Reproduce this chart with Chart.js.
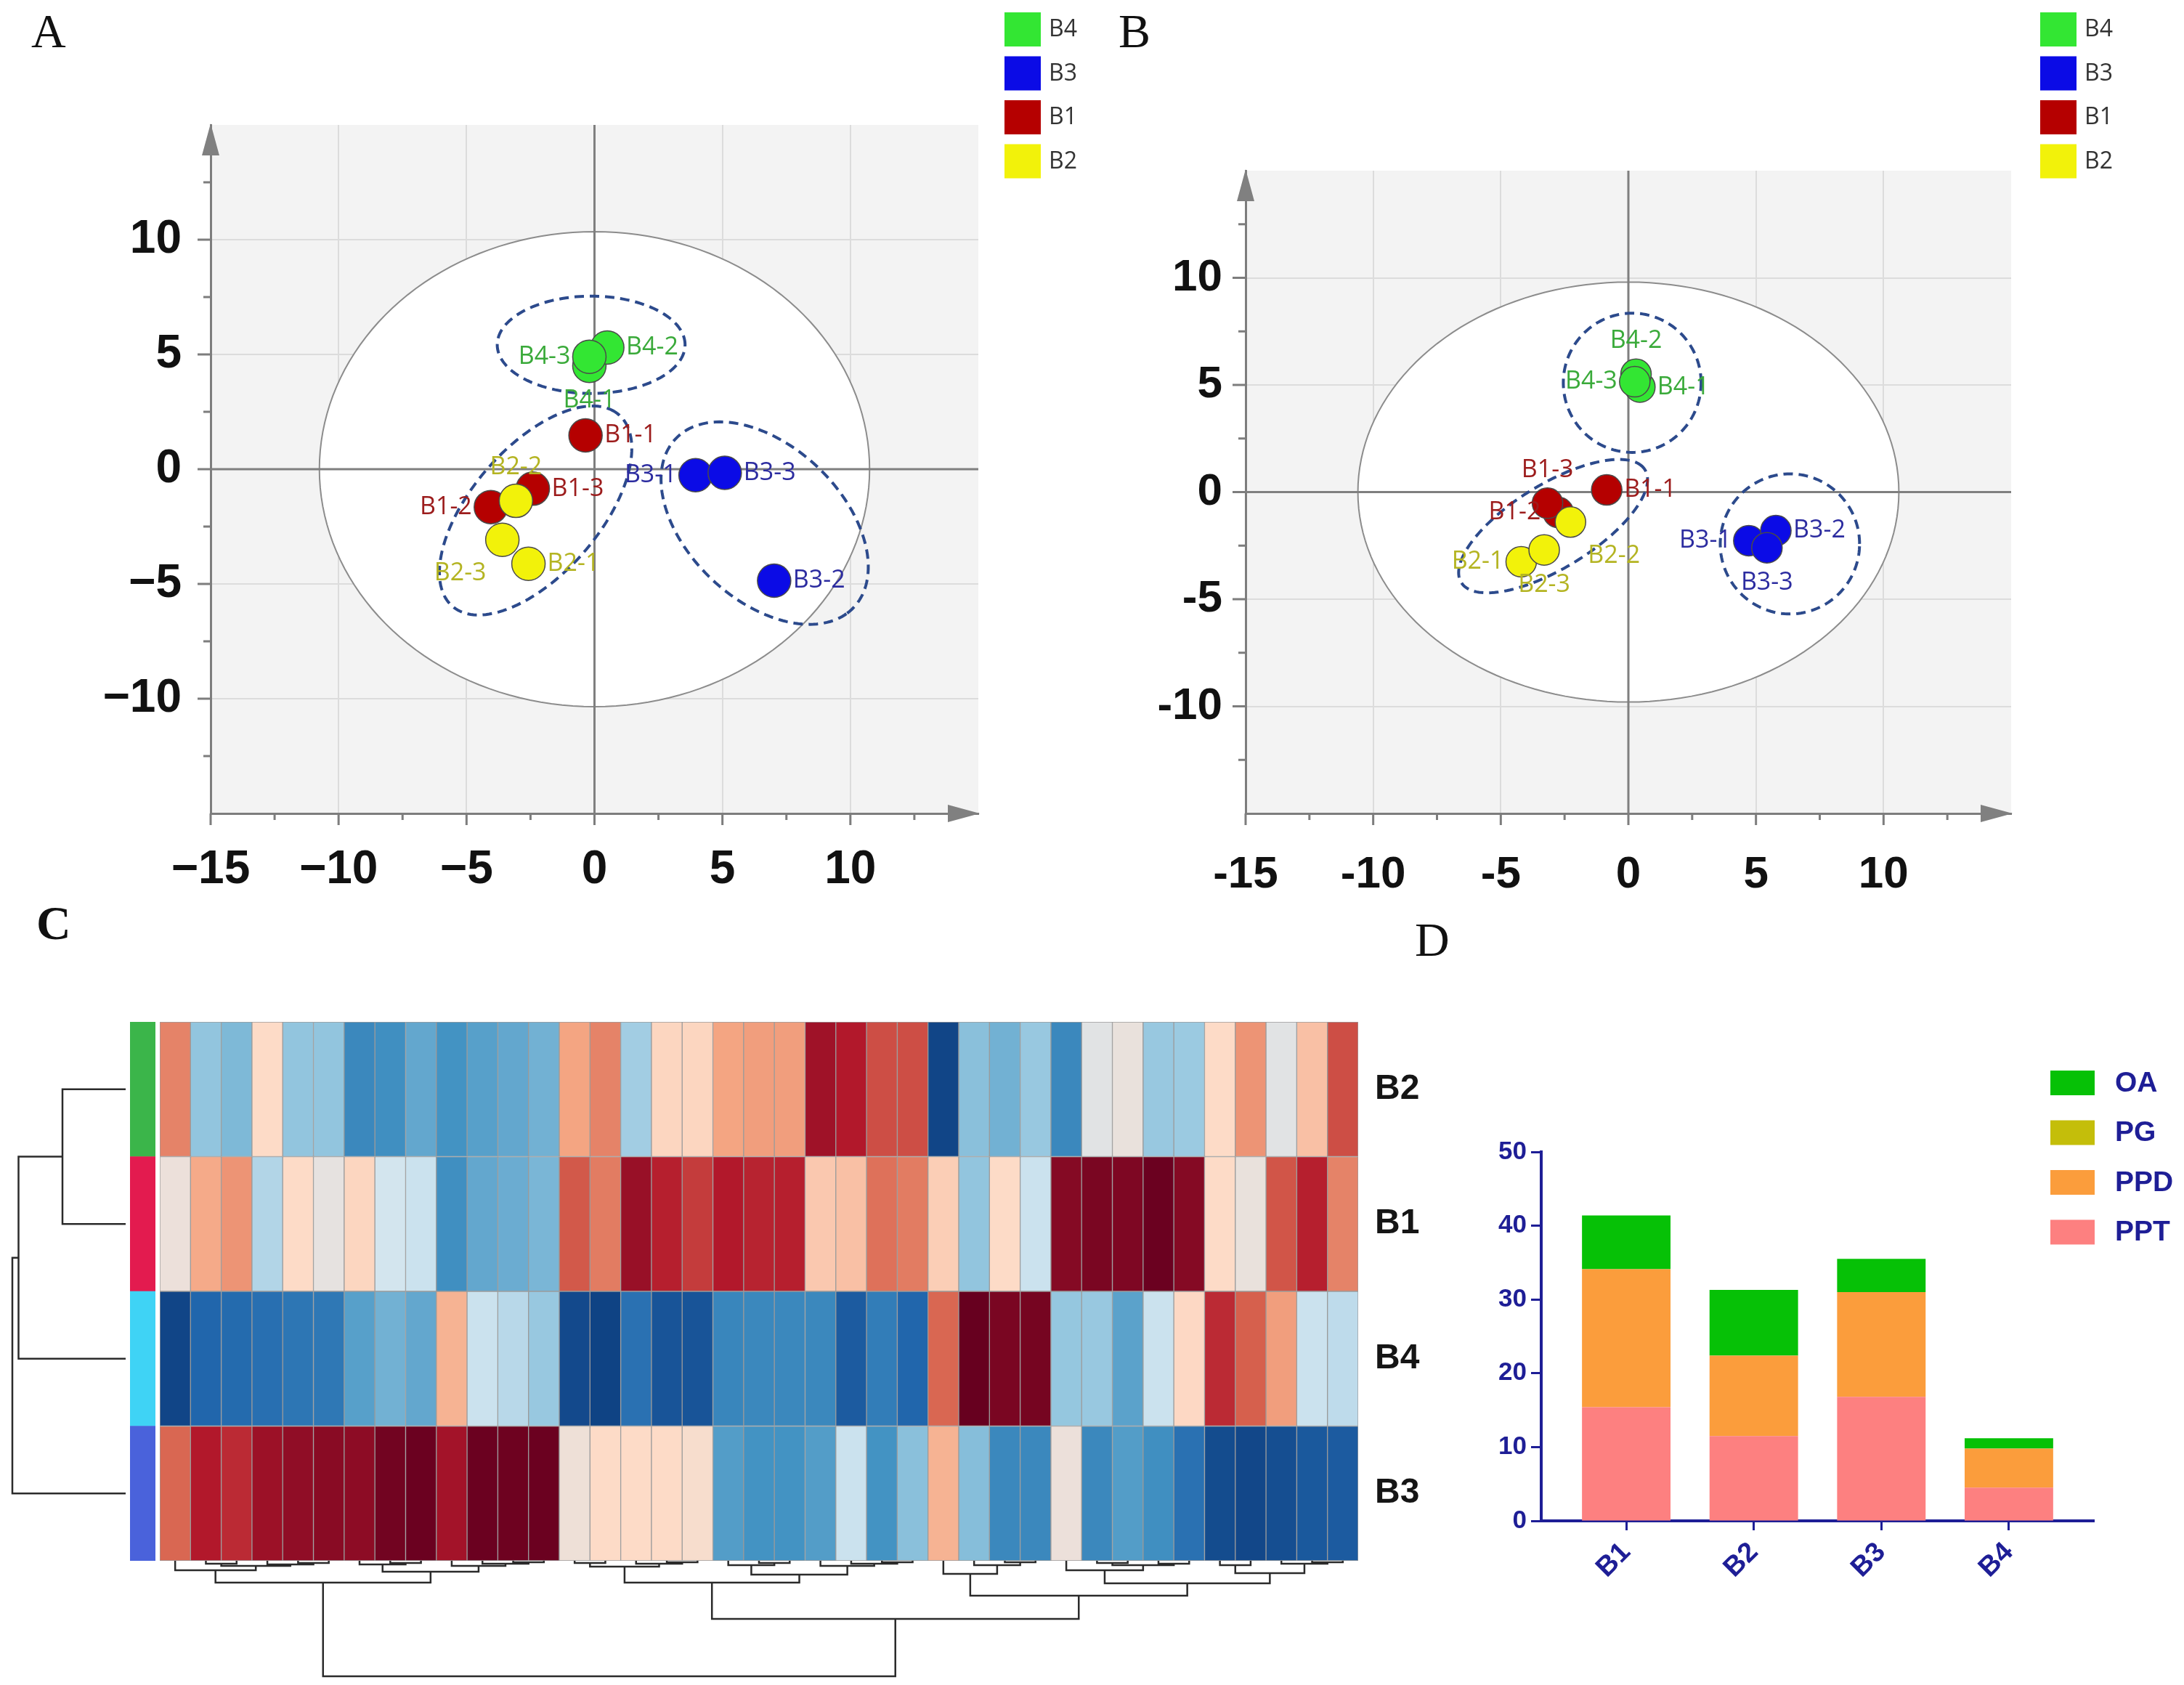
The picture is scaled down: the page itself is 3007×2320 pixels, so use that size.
<!DOCTYPE html>
<html>
<head>
<meta charset="utf-8">
<title>Score plots, heatmap and saponin content</title>
<script src="https://cdn.jsdelivr.net/npm/chart.js@4.4.1/dist/chart.umd.min.js"></script>
<style>
  body { margin: 0; background: #fff; }
  #page { position: relative; width: 3007px; height: 2320px; overflow: hidden; background: #fff; }
  #page canvas { position: absolute; }
  .tag { position: absolute; font-family: "Liberation Serif", "DejaVu Serif", serif; font-size: 66px; line-height: 66px; color: #111; }
</style>
</head>
<body>
<div id="page">
  <div class="tag" style="left:43px;top:10px">A</div>
  <div class="tag" style="left:1540px;top:10px">B</div>
  <div class="tag" style="left:50px;top:1238px;font-weight:bold">C</div>
  <div class="tag" style="left:1948px;top:1261px">D</div>
  <canvas id="pcaA" width="1500" height="1230" style="left:0;top:0"></canvas>
  <canvas id="pcaB" width="1507" height="1230" style="left:1500px;top:0"></canvas>
  <canvas id="rowTree" width="179" height="742" style="left:0;top:1407px"></canvas>
  <canvas id="rowBar" width="35" height="742" style="left:179px;top:1407px"></canvas>
  <canvas id="heat" width="1780" height="862" style="left:220px;top:1347px"></canvas>
  <canvas id="colTree" width="1650" height="171" style="left:220px;top:2149px"></canvas>
  <canvas id="bars" width="1057" height="1090" style="left:1950px;top:1230px"></canvas>
</div>
<script>
// ---------- A / B : score plots, replicates -1 -2 -3 of each group ----------
const groupNames = ['B4', 'B3', 'B1', 'B2'];

const scoresA_B4 = [[-0.2, 4.5], [0.5, 5.3], [-0.2, 4.9]];
const scoresA_B3 = [[3.95, -0.26], [7.02, -4.86], [5.09, -0.16]];
const scoresA_B1 = [[-0.35, 1.47], [-4.05, -1.65], [-2.41, -0.85]];
const scoresA_B2 = [[-2.58, -4.12], [-3.07, -1.38], [-3.6, -3.08]];
// where each replicate's name sits: r, l, t, b, bl, br
const sidesA = { B4: ['b', 'r', 'l'], B3: ['l', 'r', 'r'], B1: ['r', 'l', 'r'], B2: ['r', 't', 'bl'] };
const t2A = [10.75, 10.35];
// group ellipses: centre x, centre y, semi axis a, semi axis b, angle (deg)
const ellipsesA = [[-0.13, 5.42, 3.67, 2.12, 0], [-2.3, -1.8, 5.3, 2.6, 54], [6.65, -2.35, 5.08, 3.17, -50.6]];

const scoresB_B4 = [[0.45, 4.9], [0.3, 5.5], [0.25, 5.15]];
const scoresB_B3 = [[4.72, -2.27], [5.78, -1.8], [5.43, -2.6]];
const scoresB_B1 = [[-0.85, 0.1], [-2.75, -0.95], [-3.17, -0.52]];
const scoresB_B2 = [[-4.2, -3.25], [-2.27, -1.4], [-3.3, -2.7]];
const sidesB = { B4: ['r', 't', 'l'], B3: ['l', 'r', 'b'], B1: ['r', 'l', 't'], B2: ['l', 'br', 'b'] };
const t2B = [10.6, 9.8];
const ellipsesB = [[0.15, 5.1, 2.7, 3.25, 0], [-2.95, -1.59, 4.47, 1.85, 38], [6.33, -2.42, 2.73, 3.27, 0]];

// ---------- C : heatmap (z-scores, rows as clustered) ----------
const heatRows = ['B3', 'B4', 'B1', 'B2'];   // bottom to top
const heatB2 = [0.5, -0.4, -0.45, 0.2, -0.4, -0.4, -0.65, -0.62, -0.52, -0.6, -0.55, -0.52, -0.48, 0.4, 0.5, -0.35, 0.22, 0.22, 0.4, 0.42,
  0.42, 0.85, 0.8, 0.65, 0.65, -0.95, -0.42, -0.48, -0.38, -0.65, -0.05, 0.03, -0.38, -0.37, 0.2, 0.45, -0.05, 0.3, 0.65];
const heatB1 = [0.05, 0.38, 0.45, -0.3, 0.2, 0.0, 0.22, -0.18, -0.22, -0.62, -0.52, -0.5, -0.46, 0.62, 0.52, 0.87, 0.78, 0.7, 0.8, 0.77,
  0.78, 0.27, 0.3, 0.55, 0.52, 0.25, -0.4, 0.2, -0.22, 0.92, 0.95, 0.94, 0.99, 0.92, 0.2, 0.03, 0.63, 0.78, 0.5];
const heatB4 = [-0.95, -0.8, -0.78, -0.76, -0.73, -0.72, -0.55, -0.48, -0.52, 0.35, -0.22, -0.28, -0.38, -0.93, -0.96, -0.75, -0.88, -0.88, -0.66, -0.65,
  -0.65, -0.65, -0.85, -0.7, -0.8, 0.58, 1.0, 0.95, 0.96, -0.39, -0.38, -0.54, -0.22, 0.21, 0.75, 0.6, 0.42, -0.22, -0.26];
const heatB3 = [0.58, 0.8, 0.75, 0.86, 0.89, 0.91, 0.9, 0.97, 0.99, 0.84, 0.99, 0.98, 0.99, 0.07, 0.2, 0.2, 0.2, 0.15, -0.56, -0.6,
  -0.6, -0.56, -0.22, -0.6, -0.42, 0.35, -0.43, -0.65, -0.65, 0.05, -0.65, -0.56, -0.62, -0.75, -0.92, -0.94, -0.91, -0.86, -0.85];
// dendrograms: [left, right, height]; leaves are row / column indices
const rowTree = [[[3, 2, 87], 1, 147.5], 0, 156];
const colTree = [
  [[0, [[1, 2, 4], [3, [4, 5, 3], 5], 7], 13], [[6, [7, 8, 3], 5], [9, [10, [11, 12, 2], 4], 7], 15], 30],
  [[[[13, 14, 3], [15, [16, 17, 2], 4], 8], [[18, [19, 20, 3], 6], [21, [22, [23, 24, 2], 4], 7], 19], 30],
   [[25, [26, [27, 28, 2], 6], 18], [[29, [[30, 31, 3], [32, 33, 4], 6], 13], [[34, 35, 6], [36, [37, 38, 2], 4], 17], 31], 48], 80],
  159];

// ---------- D : stacked content ----------
const barGroups = ['B1', 'B2', 'B3', 'B4'];
const ppt = [15.4, 11.5, 16.8, 4.5];
const ppd = [18.7, 10.9, 14.2, 5.3];
const pg = [0, 0, 0, 0];
const oa = [7.3, 8.9, 4.5, 1.4];

// ---------- style ----------
const sans = '"Liberation Sans", Arial, sans-serif';
const groupFill = { B4: '#33e633', B3: '#0b0be6', B1: '#b50000', B2: '#f2f20a' };
const groupText = { B4: '#3aaa3a', B3: '#2c2ca0', B1: '#9c1c1c', B2: '#b4b422' };
const navy = '#1e1e96';
const rdbu = ['#0b3a7a', '#2166ac', '#4393c3', '#92c5de', '#d1e5f0', '#e6e2e0', '#fddbc7', '#f4a582', '#d6604d', '#b2182b', '#67001f'];

function hexRgb(h) { return [1, 3, 5].map(i => parseInt(h.slice(i, i + 2), 16)); }
function heatColor(v) {
  const t = (Math.max(-1, Math.min(1, v)) + 1) * 5;
  const i = Math.min(9, Math.floor(t)), f = t - i;
  const a = hexRgb(rdbu[i]), b = hexRgb(rdbu[i + 1]);
  return 'rgb(' + a.map((c, k) => Math.round(c + (b[k] - c) * f)).join(',') + ')';
}

function ellipsePath(ctx, xs, ys, e) {
  const [cx, cy, a, b, deg] = e;
  const t = deg * Math.PI / 180;
  ctx.beginPath();
  for (let i = 0; i <= 160; i++) {
    const u = i / 160 * 2 * Math.PI;
    const dx = a * Math.cos(u), dy = b * Math.sin(u);
    const px = xs.getPixelForValue(cx + dx * Math.cos(t) - dy * Math.sin(t));
    const py = ys.getPixelForValue(cy + dx * Math.sin(t) + dy * Math.cos(t));
    if (i) ctx.lineTo(px, py); else ctx.moveTo(px, py);
  }
  ctx.closePath();
}

// background, T2 ellipse, centre lines, group ellipses, axis ticks, arrows, sample names, legend
const scoreDecor = {
  id: 'scoreDecor',
  beforeDraw(chart) {
    const { ctx, chartArea: a } = chart;
    ctx.save();
    ctx.fillStyle = '#f3f3f3';
    ctx.fillRect(a.left, a.top, a.right - a.left, a.bottom - a.top);
    ctx.restore();
  },
  beforeDatasetsDraw(chart, args, o) {
    const { ctx, chartArea: a, scales: { x, y } } = chart;
    ctx.save();
    ellipsePath(ctx, x, y, [0, 0, o.t2[0], o.t2[1], 0]);
    ctx.fillStyle = '#fff';
    ctx.fill();
    ctx.strokeStyle = '#8c8c8c';
    ctx.lineWidth = 2;
    ctx.stroke();
    // centre lines
    ctx.strokeStyle = '#7f7f7f';
    ctx.lineWidth = 3;
    ctx.beginPath();
    ctx.moveTo(x.getPixelForValue(0), a.top);
    ctx.lineTo(x.getPixelForValue(0), a.bottom);
    ctx.moveTo(a.left, y.getPixelForValue(0));
    ctx.lineTo(a.right, y.getPixelForValue(0));
    ctx.stroke();
    // group ellipses
    ctx.strokeStyle = '#2c4a8c';
    ctx.lineWidth = 4;
    ctx.setLineDash([13, 8]);
    o.ellipses.forEach(e => { ellipsePath(ctx, x, y, e); ctx.stroke(); });
    ctx.setLineDash([]);
    // axis tick marks, major every 5, minor every 2.5
    ctx.strokeStyle = '#7d7d7d';
    ctx.lineWidth = 3;
    ctx.beginPath();
    for (let v = x.min; v < x.max; v += 2.5) {
      const px = x.getPixelForValue(v), major = v % 5 === 0;
      ctx.moveTo(px, a.bottom);
      ctx.lineTo(px, a.bottom + (major ? 16 : 9));
    }
    for (let v = y.min + 2.5; v < y.max; v += 2.5) {
      const py = y.getPixelForValue(v), major = v % 5 === 0;
      ctx.moveTo(a.left, py);
      ctx.lineTo(a.left - (major ? 18 : 10), py);
    }
    ctx.stroke();
    // arrows
    ctx.fillStyle = '#808080';
    ctx.beginPath();
    ctx.moveTo(a.left, a.top - 2);
    ctx.lineTo(a.left - 12, a.top + 42);
    ctx.lineTo(a.left + 12, a.top + 42);
    ctx.closePath();
    ctx.moveTo(a.right + 2, a.bottom);
    ctx.lineTo(a.right - 42, a.bottom - 12);
    ctx.lineTo(a.right - 42, a.bottom + 12);
    ctx.closePath();
    ctx.fill();
    ctx.restore();
  },
  afterDatasetsDraw(chart, args, o) {
    const { ctx } = chart;
    ctx.save();
    ctx.font = '34px "Open Sans", "Liberation Sans", sans-serif';
    chart.data.datasets.forEach((ds, di) => {
      const meta = chart.getDatasetMeta(di);
      ctx.fillStyle = groupText[ds.label];
      meta.data.forEach((el, i) => {
        const name = ds.label + '-' + (i + 1);
        const side = ds.sides[i], r = ds.pointRadius;
        let tx = el.x, ty = el.y;
        ctx.textBaseline = 'middle';
        ctx.textAlign = 'center';
        if (side === 'r') { ctx.textAlign = 'left'; tx += r + 3; }
        if (side === 'l') { ctx.textAlign = 'right'; tx -= r + 3; }
        if (side === 't') ty -= 46;
        if (side === 'b') ty += 48;
        if (side === 'bl') { tx -= 58; ty += 46; }
        if (side === 'br') { tx += 60; ty += 47; }
        ctx.fillText(name, tx, ty);
      });
    });
    // legend
    ctx.font = '32px "Open Sans", "Liberation Sans", sans-serif';
    ctx.textAlign = 'left';
    ctx.textBaseline = 'middle';
    groupNames.forEach((g, i) => {
      const top = 17 + i * 60.5;
      ctx.fillStyle = groupFill[g];
      ctx.fillRect(o.legendX, top, 50, 47);
      ctx.fillStyle = '#333';
      ctx.fillText(g, o.legendX + 61, top + 24);
    });
    ctx.restore();
  }
};

function scoreChart(id, sets, sides, t2, ellipses, look) {
  const order = { B2: 1, B1: 2, B3: 3, B4: 4 };
  const fmt = v => v < 0 ? look.minus + Math.abs(v) : String(v);
  const gridColor = c => (c.tick && Math.abs(c.tick.value) % 15 !== 0) ? '#dcdcdc' : 'rgba(0,0,0,0)';
  return new Chart(document.getElementById(id), {
    type: 'scatter',
    data: {
      datasets: groupNames.map(g => ({
        label: g,
        data: sets[g].map(p => ({ x: p[0], y: p[1] })),
        sides: sides[g],
        backgroundColor: groupFill[g],
        borderColor: '#4a4a4a',
        borderWidth: 1.5,
        pointRadius: look.r,
        order: order[g]
      }))
    },
    options: {
      responsive: false, animation: false, devicePixelRatio: 1,
      layout: { padding: { top: look.top, right: look.right, left: 0, bottom: 0 } },
      plugins: {
        legend: { display: false }, tooltip: { enabled: false },
        scoreDecor: { t2: t2, ellipses: ellipses, legendX: look.legendX }
      },
      scales: {
        x: {
          type: 'linear', min: -15, max: 15,
          afterFit: s => { s.height = 110; },
          ticks: { stepSize: 5, padding: look.xpad, autoSkip: false, maxRotation: 0, color: '#111',
                   font: { family: sans, size: look.font, weight: 'bold' },
                   callback: v => v >= 15 ? null : fmt(v) },
          grid: { color: gridColor, lineWidth: 2, drawTicks: false },
          border: { color: '#7d7d7d', width: 3 }
        },
        y: {
          type: 'linear', min: -15, max: 15,
          afterFit: s => { s.width = look.yw; },
          ticks: { stepSize: 5, padding: look.ypad, autoSkip: false, color: '#111',
                   font: { family: sans, size: look.font, weight: 'bold' },
                   callback: v => Math.abs(v) >= 15 ? null : fmt(v) },
          grid: { color: gridColor, lineWidth: 2, drawTicks: false },
          border: { color: '#7d7d7d', width: 3 }
        }
      }
    },
    plugins: [scoreDecor]
  });
}

scoreChart('pcaA', { B4: scoresA_B4, B3: scoresA_B3, B1: scoresA_B1, B2: scoresA_B2 }, sidesA, t2A, ellipsesA,
  { top: 172, right: 153, yw: 290, xpad: 40, ypad: 40, font: 64, minus: '\u2212', r: 23, legendX: 1383 });
scoreChart('pcaB', { B4: scoresB_B4, B3: scoresB_B3, B1: scoresB_B1, B2: scoresB_B2 }, sidesB, t2B, ellipsesB,
  { top: 235, right: 238, yw: 215, xpad: 48, ypad: 32, font: 62, minus: '-', r: 21, legendX: 1309 });

// ---------- C ----------
const heatSets = [heatB3, heatB4, heatB1, heatB2];
const columnIds = heatB2.map((v, i) => String(i + 1));

new Chart(document.getElementById('heat'), {
  type: 'bar',
  data: {
    labels: columnIds,
    datasets: heatSets.map((vals, k) => ({
      label: heatRows[k],
      data: vals.map(() => 1),
      backgroundColor: vals.map(heatColor),
      borderColor: '#9b9b9b',
      borderWidth: 1,
      borderSkipped: false,
      barPercentage: 1,
      categoryPercentage: 1
    }))
  },
  options: {
    responsive: false, animation: false, devicePixelRatio: 1,
    layout: { padding: { top: 60, bottom: 60, left: 0, right: 0 } },
    plugins: { legend: { display: false }, tooltip: { enabled: false } },
    scales: {
      x: { stacked: true, display: false },
      y: {
        stacked: true, position: 'right', min: 0, max: 4,
        afterFit: s => { s.width = 130; },
        afterBuildTicks: s => { s.ticks = heatRows.map((r, i) => ({ value: i + 0.5 })); },
        ticks: { padding: 15, color: '#151515', font: { family: sans, size: 48, weight: 'bold' },
                 callback: v => heatRows[Math.floor(v)] },
        grid: { display: false },
        border: { display: false }
      }
    }
  }
});

const rowBarColors = ['#4a62db', '#3fd3f5', '#e31b4f', '#3bb54a'];
new Chart(document.getElementById('rowBar'), {
  type: 'bar',
  data: {
    labels: ['group'],
    datasets: heatRows.map((r, k) => ({ label: r, data: [1], backgroundColor: rowBarColors[k],
      barPercentage: 1, categoryPercentage: 1, borderWidth: 0 }))
  },
  options: {
    responsive: false, animation: false, devicePixelRatio: 1,
    plugins: { legend: { display: false }, tooltip: { enabled: false } },
    scales: { x: { stacked: true, display: false }, y: { stacked: true, min: 0, max: 4, display: false } }
  }
});

function treeLines(tree, leafPos, across) {
  const segs = [];
  function walk(node) {
    if (typeof node === 'number') return { p: leafPos(node), h: 0 };
    const a = walk(node[0]), b = walk(node[1]), h = node[2];
    segs.push([[a.p, a.h], [a.p, h], [b.p, h], [b.p, b.h]]);
    return { p: (a.p + b.p) / 2, h: h };
  }
  walk(tree);
  return segs.map(s => ({
    data: s.map(q => across ? { x: q[1], y: q[0] } : { x: q[0], y: q[1] }),
    showLine: true, borderColor: '#2b2b2b', borderWidth: 2.5, pointRadius: 0, tension: 0, clip: false
  }));
}

new Chart(document.getElementById('rowTree'), {
  type: 'scatter',
  data: { datasets: treeLines(rowTree, i => i + 0.5, true) },
  options: {
    responsive: false, animation: false, devicePixelRatio: 1,
    layout: { padding: { right: 6 } },
    plugins: { legend: { display: false }, tooltip: { enabled: false } },
    scales: { x: { min: 0, max: 173, reverse: true, display: false }, y: { min: 0, max: 4, display: false } }
  }
});

new Chart(document.getElementById('colTree'), {
  type: 'scatter',
  data: { datasets: treeLines(colTree, i => i, false) },
  options: {
    responsive: false, animation: false, devicePixelRatio: 1,
    layout: { padding: 0 },
    plugins: { legend: { display: false }, tooltip: { enabled: false } },
    scales: { x: { min: -0.5, max: 38.5, display: false }, y: { min: 0, max: 171, reverse: true, display: false } }
  }
});

// ---------- D ----------
const barLegend = {
  id: 'barLegend',
  afterDraw(chart) {
    const { ctx } = chart;
    ctx.save();
    ctx.font = 'bold 39px ' + sans;
    ctx.textAlign = 'left';
    ctx.textBaseline = 'middle';
    chart.data.datasets.slice().reverse().forEach((ds, i) => {
      const top = 244 + i * 68.5;
      ctx.fillStyle = ds.backgroundColor;
      ctx.fillRect(873, top, 61, 34);
      ctx.fillStyle = navy;
      ctx.fillText(ds.label, 962, top + 18);
    });
    ctx.restore();
  }
};

const stackSeries = [['PPT', ppt, '#fd8080'], ['PPD', ppd, '#fb9d3c'], ['PG', pg, '#c4be0a'], ['OA', oa, '#06c106']];
new Chart(document.getElementById('bars'), {
  type: 'bar',
  data: {
    datasets: stackSeries.map(s => ({
      label: s[0],
      data: s[1].map((v, i) => ({ x: i + 1, y: v })),
      backgroundColor: s[2],
      barPercentage: 0.694,
      categoryPercentage: 1
    }))
  },
  options: {
    responsive: false, animation: false, devicePixelRatio: 1,
    layout: { padding: { top: 356, right: 124, left: 0, bottom: 0 } },
    plugins: { legend: { display: false }, tooltip: { enabled: false } },
    scales: {
      x: {
        type: 'linear', stacked: true, min: 1 / 3, max: 14 / 3, offset: false,
        afterFit: s => { s.height = 226; },
        afterBuildTicks: s => { s.ticks = barGroups.map((g, i) => ({ value: i + 1 })); },
        ticks: { autoSkip: false, minRotation: 45, maxRotation: 45, padding: 8, color: navy,
                 font: { family: sans, size: 38, weight: 'bold' }, callback: v => barGroups[v - 1] },
        grid: { offset: false, drawOnChartArea: false, tickLength: 13, tickColor: navy, tickWidth: 3, color: navy },
        border: { color: navy, width: 4 }
      },
      y: {
        stacked: true, min: 0, max: 50,
        afterFit: s => { s.width = 172; },
        ticks: { stepSize: 10, padding: 6, color: navy, font: { family: sans, size: 35, weight: 'bold' } },
        grid: { drawOnChartArea: false, tickLength: 14, tickColor: navy, tickWidth: 3, color: navy },
        border: { color: navy, width: 4 }
      }
    }
  },
  plugins: [barLegend]
});
</script>
</body>
</html>
